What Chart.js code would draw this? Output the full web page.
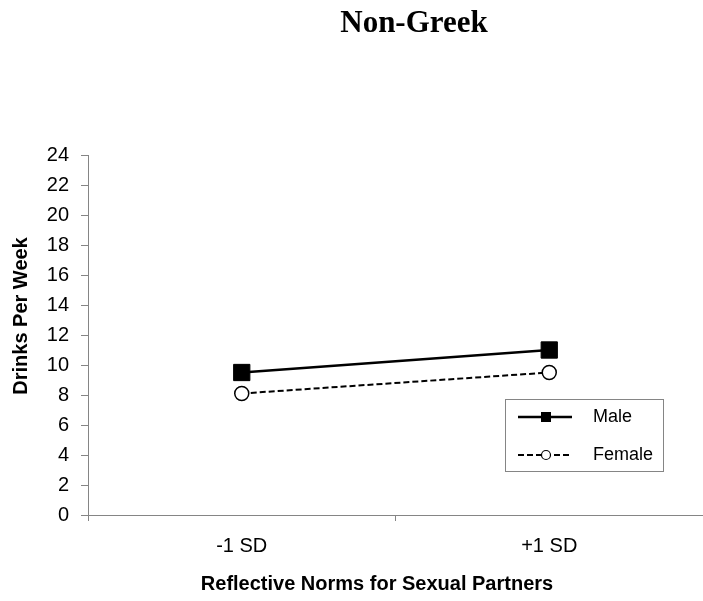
<!DOCTYPE html>
<html><head><meta charset="utf-8">
<script src="https://cdn.jsdelivr.net/npm/chart.js@4"></script>
<style>html,body{margin:0;padding:0;background:#fff}#wrap{width:703px;height:601px;position:relative}</style>
</head><body><div id="wrap"><canvas id="c" width="703" height="601"></canvas></div>
<script>
const chartTitle = 'Non-Greek';
const xAxisTitle = 'Reflective Norms for Sexual Partners';
const yAxisTitle = 'Drinks Per Week';
const categories = ['-1 SD', '+1 SD'];
const seriesNames = ['Male', 'Female'];
const maleValues = [9.5, 11.0];
const femaleValues = [8.1, 9.5];
const yMin = 0, yMax = 24, yStep = 2;

const SANS = '"Liberation Sans", Arial, sans-serif';
const SERIF = '"Liberation Serif", "Times New Roman", serif';
const AXIS_COLOR = '#858585';

const textPlugin = {
  id: 'textPlugin',
  afterDraw(chart) {
    const ctx = chart.ctx;
    ctx.save();
    ctx.fillStyle = '#000';
    // main title
    ctx.font = 'bold 31px ' + SERIF;
    ctx.textAlign = 'center';
    ctx.textBaseline = 'middle';
    ctx.fillText(chartTitle, 414, 24);
    // x axis title
    ctx.font = 'bold 20px ' + SANS;
    ctx.fillText(xAxisTitle, 377, 584);
    // y axis title
    ctx.save();
    ctx.translate(21, 316);
    ctx.rotate(-Math.PI / 2);
    ctx.fillText(yAxisTitle, 0, 0);
    ctx.restore();

    // legend
    const bx = 505.5, by = 399.5, bw = 158, bh = 72;
    ctx.strokeStyle = AXIS_COLOR;
    ctx.lineWidth = 1;
    ctx.strokeRect(bx, by, bw, bh);
    const rows = [417, 455];
    chart.data.datasets.forEach((ds, i) => {
      const y = rows[i];
      ctx.save();
      ctx.strokeStyle = '#000';
      ctx.lineWidth = ds.borderWidth;
      ctx.setLineDash(ds.borderDash || []);
      ctx.beginPath();
      ctx.moveTo(518, y);
      ctx.lineTo(572, y);
      ctx.stroke();
      ctx.setLineDash([]);
      ctx.lineWidth = 1.2;
      ctx.fillStyle = ds.pointBackgroundColor;
      if (ds.pointStyle === 'rect') {
        ctx.fillRect(541, y - 5, 10, 10);
      } else {
        ctx.beginPath();
        ctx.arc(546, y, 4.5, 0, Math.PI * 2);
        ctx.fill();
        ctx.stroke();
      }
      ctx.restore();
      ctx.fillStyle = '#000';
      ctx.font = '18px ' + SANS;
      ctx.textAlign = 'left';
      ctx.textBaseline = 'middle';
      ctx.fillText(ds.label, 593, y);
    });
    ctx.restore();
  }
};

new Chart(document.getElementById('c'), {
  type: 'line',
  data: {
    labels: categories,
    datasets: [
      {
        label: seriesNames[0],
        data: maleValues,
        borderColor: '#000',
        borderWidth: 2.5,
        pointStyle: 'rect',
        pointRadius: 11.5,
        pointBackgroundColor: '#000',
        pointBorderColor: '#000',
        pointBorderWidth: 1,
        tension: 0
      },
      {
        label: seriesNames[1],
        data: femaleValues,
        borderColor: '#000',
        borderWidth: 2,
        borderDash: [6, 3],
        pointStyle: 'circle',
        pointRadius: 7,
        pointBackgroundColor: '#fff',
        pointBorderColor: '#000',
        pointBorderWidth: 1.5,
        tension: 0
      }
    ]
  },
  options: {
    responsive: false,
    animation: false,
    layout: { autoPadding: false, padding: { top: 155, left: 0, right: 0, bottom: 0 } },
    plugins: { legend: { display: false }, title: { display: false }, tooltip: { enabled: false } },
    scales: {
      x: {
        type: 'category',
        offset: true,
        afterFit(scale) { scale.height = 86; scale.paddingLeft = 0; scale.paddingRight = 0; },
        grid: { display: true, offset: true, drawOnChartArea: false, drawTicks: true, tickLength: 6, color: AXIS_COLOR },
        border: { display: true, color: AXIS_COLOR, width: 1 },
        ticks: { color: '#000', font: { family: SANS, size: 20 }, padding: 13, maxRotation: 0 }
      },
      y: {
        min: yMin, max: yMax,
        afterFit(scale) { scale.width = 88; scale.paddingTop = 0; scale.paddingBottom = 0; },
        grid: { display: true, drawOnChartArea: false, drawTicks: true, tickLength: 7, color: AXIS_COLOR },
        border: { display: true, color: AXIS_COLOR, width: 1 },
        ticks: { stepSize: yStep, color: '#000', font: { family: SANS, size: 20 }, padding: 12 }
      }
    }
  },
  plugins: [textPlugin]
});
</script>
</body></html>
